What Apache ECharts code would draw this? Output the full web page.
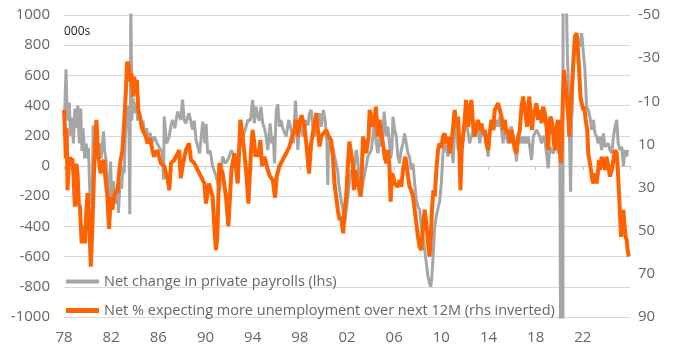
<!DOCTYPE html>
<html>
<head>
<meta charset="utf-8">
<script src="https://cdn.jsdelivr.net/npm/echarts@6/dist/echarts.min.js"></script>
<style>
html,body{margin:0;padding:0;background:#fff;}
#chart{width:678px;height:355px;}
</style>
</head>
<body>
<div id="chart"></div>
<script>
// Net change in private payrolls (000s, lhs) : [decimal year, value]
const payrolls = [
[1978.00,200],[1978.08,420],[1978.17,640],[1978.25,400],[1978.33,300],[1978.45,420],[1978.55,200],[1978.65,320],[1978.80,150],[1978.92,380],
[1979.05,250],[1979.17,400],[1979.30,150],[1979.42,380],[1979.52,100],[1979.62,250],[1979.75,50],[1979.88,150],[1980.00,50],[1980.08,120],
[1980.18,-160],[1980.30,-250],[1980.40,-180],[1980.48,270],[1980.58,100],[1980.70,200],[1980.85,50],[1981.00,150],[1981.15,50],[1981.35,230],
[1981.45,100],[1981.55,50],[1981.65,-50],[1981.75,-150],[1981.85,-310],[1981.95,30],[1982.05,-200],[1982.20,-100],[1982.35,-250],[1982.50,-150],
[1982.62,-310],[1982.75,-100],[1982.88,-150],[1983.00,0],[1983.10,-50],[1983.20,200],[1983.30,300],[1983.40,400],[1983.50,350],[1983.58,-320],
[1983.67,1100],[1983.75,300],[1983.85,450],[1984.00,350],[1984.12,420],[1984.25,300],[1984.40,350],[1984.55,250],[1984.70,300],[1984.85,200],
[1985.00,250],[1985.15,180],[1985.30,220],[1985.45,150],[1985.65,195],[1985.90,150],[1986.10,120],[1986.36,84],[1986.44,-90],[1986.50,327],
[1986.70,150],[1986.93,195],[1987.05,260],[1987.20,305],[1987.40,250],[1987.63,360],[1987.90,305],[1988.05,440],[1988.20,300],[1988.34,283],
[1988.60,350],[1988.75,300],[1988.90,240],[1989.05,300],[1989.20,172],[1989.50,84],[1989.65,200],[1989.76,294],[1989.95,150],[1990.05,280],
[1990.18,84],[1990.40,100],[1990.60,0],[1990.90,-70],[1991.20,-160],[1991.45,62],[1991.70,18],[1991.95,50],[1992.20,106],[1992.45,60],
[1992.70,-30],[1992.95,150],[1993.20,195],[1993.40,250],[1993.60,305],[1993.80,300],[1994.00,437],[1994.14,283],[1994.28,393],[1994.43,327],
[1994.58,300],[1994.70,393],[1994.85,283],[1995.00,250],[1995.14,195],[1995.28,106],[1995.48,283],[1995.62,150],[1995.75,200],[1995.85,18],
[1996.00,371],[1996.13,410],[1996.27,260],[1996.40,305],[1996.55,250],[1996.70,260],[1996.84,195],[1997.06,305],[1997.26,239],[1997.46,150],
[1997.63,433],[1997.75,250],[1997.83,106],[1997.97,260],[1998.10,300],[1998.25,195],[1998.40,250],[1998.54,305],[1998.70,270],[1998.82,350],
[1998.96,371],[1999.10,260],[1999.25,195],[1999.40,250],[1999.53,305],[1999.67,350],[1999.81,260],[2000.00,371],[2000.15,300],[2000.29,172],
[2000.37,-126],[2000.45,195],[2000.60,100],[2000.80,128],[2000.95,60],[2001.08,18],[2001.20,-30],[2001.30,-115],[2001.50,-225],[2001.65,-290],
[2001.80,-380],[2001.94,-290],[2002.08,-203],[2002.20,-115],[2002.36,-26],[2002.50,-70],[2002.64,0],[2002.78,106],[2002.92,40],[2003.06,-137],
[2003.20,-203],[2003.35,-115],[2003.50,-48],[2003.63,0],[2003.77,62],[2003.92,84],[2004.06,106],[2004.20,195],[2004.34,305],[2004.48,150],
[2004.62,84],[2004.76,195],[2004.90,128],[2005.05,216],[2005.15,360],[2005.33,195],[2005.47,260],[2005.60,150],[2005.70,50],[2005.80,106],
[2005.90,327],[2006.04,239],[2006.18,195],[2006.32,62],[2006.46,18],[2006.60,106],[2006.75,150],[2006.89,216],[2007.03,150],[2007.17,84],
[2007.30,62],[2007.45,-26],[2007.60,18],[2007.74,-115],[2007.88,-225],[2008.02,-270],[2008.16,-290],[2008.30,-400],[2008.45,-470],[2008.59,-557],
[2008.73,-645],[2008.87,-733],[2009.00,-778],[2009.10,-800],[2009.20,-733],[2009.33,-557],[2009.44,-400],[2009.58,-330],[2009.72,-280],[2009.86,-230],
[2010.00,-115],[2010.14,84],[2010.28,150],[2010.43,106],[2010.57,62],[2010.70,128],[2010.85,150],[2011.00,18],[2011.13,239],[2011.28,283],
[2011.42,106],[2011.56,150],[2011.70,195],[2011.84,172],[2011.98,283],[2012.10,305],[2012.27,216],[2012.40,150],[2012.55,195],[2012.70,239],
[2012.83,260],[2012.97,239],[2013.10,260],[2013.26,150],[2013.40,239],[2013.54,195],[2013.68,239],[2013.82,150],[2013.97,62],[2014.10,216],
[2014.25,283],[2014.40,239],[2014.53,260],[2014.68,305],[2014.82,260],[2014.96,327],[2015.10,239],[2015.24,150],[2015.38,239],[2015.52,195],
[2015.67,150],[2015.80,239],[2015.95,260],[2016.10,195],[2016.24,150],[2016.37,30],[2016.52,216],[2016.66,150],[2016.80,195],[2016.94,150],
[2017.08,195],[2017.22,150],[2017.37,195],[2017.50,128],[2017.65,40],[2017.80,195],[2017.93,216],[2018.08,239],[2018.20,239],[2018.35,195],
[2018.50,150],[2018.65,200],[2018.78,172],[2018.92,84],[2019.06,-15],[2019.20,128],[2019.35,100],[2019.50,84],[2019.63,128],[2019.78,150],
[2019.90,84],[2020.05,150],[2020.13,-1500],[2020.25,-19000],[2020.33,3000],[2020.42,4500],[2020.50,1500],[2020.60,1100],[2020.70,700],[2020.76,590],
[2020.85,260],[2020.96,-170],[2021.05,300],[2021.10,371],[2021.19,700],[2021.33,835],[2021.47,813],[2021.60,835],[2021.75,790],[2021.90,880],
[2022.04,880],[2022.18,636],[2022.32,393],[2022.46,371],[2022.60,327],[2022.75,239],[2022.90,305],[2023.03,216],[2023.17,195],[2023.30,150],
[2023.45,195],[2023.60,106],[2023.74,216],[2023.88,128],[2024.00,128],[2024.16,150],[2024.30,106],[2024.45,84],[2024.60,195],[2024.73,260],
[2024.87,305],[2025.00,150],[2025.15,106],[2025.30,128],[2025.44,0],[2025.58,106],[2025.72,62],[2025.80,106]
];

// Net % expecting more unemployment over next 12M (rhs, inverted) : [decimal year, value]
const expectations = [
[1978.00,-5.9],[1978.08,2.5],[1978.15,16.5],[1978.22,2.5],[1978.30,31.2],[1978.40,20],[1978.50,15.8],[1978.60,17.9],[1978.70,16.5],[1978.80,23.5],
[1978.92,38.9],[1979.05,19],[1979.15,23.5],[1979.25,37.5],[1979.35,38.9],[1979.50,55.9],[1979.60,52.9],[1979.70,48],[1979.78,55.9],[1979.90,40.3],
[1980.00,32.6],[1980.12,42],[1980.27,66.7],[1980.41,48],[1980.55,21.8],[1980.75,-1.4],[1980.86,11],[1980.97,17.2],[1981.10,23.4],[1981.25,18.7],
[1981.40,17.2],[1981.50,24.9],[1981.68,34.2],[1981.82,49.1],[1981.97,34.2],[1982.10,40.3],[1982.25,34.2],[1982.40,31.2],[1982.53,32.6],[1982.67,23.4],
[1982.80,17.2],[1982.96,12.6],[1983.10,0.2],[1983.24,-13.7],[1983.35,-28.3],[1983.50,-26.2],[1983.60,-19.2],[1983.72,-23],[1983.86,-12.2],[1983.95,-21.4],
[1984.09,-13.7],[1984.18,-19.9],[1984.30,-6],[1984.50,-1.4],[1984.66,3.2],[1984.80,4.9],[1984.94,6.4],[1985.08,9.5],[1985.28,7.2],[1985.50,12.6],
[1985.65,15.7],[1985.93,12.6],[1986.20,18.7],[1986.50,20],[1986.80,26.5],[1986.93,31.2],[1987.07,18.7],[1987.35,17.2],[1987.77,12.6],[1987.90,25.7],
[1988.06,20],[1988.34,12.6],[1988.60,9.5],[1988.77,17.2],[1989.05,18.7],[1989.33,21.8],[1989.62,24.9],[1989.90,28.1],[1990.04,37.4],[1990.30,28.1],
[1990.60,34.2],[1990.75,48],[1990.88,59],[1991.00,52.9],[1991.17,18.7],[1991.45,23.4],[1991.74,34.2],[1991.94,48],[1992.20,21.8],[1992.45,14.1],
[1992.73,28.1],[1992.96,-1.4],[1993.15,6.4],[1993.44,21.8],[1993.64,37.4],[1993.86,12.6],[1994.00,3.3],[1994.14,9.5],[1994.23,15.7],[1994.34,12.6],
[1994.50,15.7],[1994.65,8],[1994.80,20],[1995.00,15.7],[1995.14,18.7],[1995.28,21.8],[1995.48,24.9],[1995.70,26.5],[1995.90,34.7],[1996.04,24.9],
[1996.27,20],[1996.55,17.2],[1996.84,14.1],[1997.12,11],[1997.35,6.4],[1997.55,3.3],[1997.70,-1.4],[1997.83,6.4],[1997.97,0.2],[1998.15,-3.5],
[1998.40,1.8],[1998.60,12.6],[1998.78,23.5],[1998.96,9.5],[1999.25,0.2],[1999.39,-4.5],[1999.53,3.3],[1999.67,11],[1999.81,6.4],[2000.00,4.9],
[2000.24,3.3],[2000.46,6.4],[2000.66,8],[2000.80,15.7],[2000.94,28.1],[2001.08,34.2],[2001.22,40.3],[2001.37,45.1],[2001.50,43.5],[2001.68,51.2],
[2001.80,40.3],[2001.93,34.2],[2002.07,20],[2002.20,8.7],[2002.36,14.1],[2002.50,20],[2002.58,31.2],[2002.72,21.8],[2002.87,28.1],[2003.06,31.2],
[2003.15,34.2],[2003.26,21.8],[2003.35,6.4],[2003.50,9.5],[2003.63,14.1],[2003.83,6.4],[2003.92,-6],[2004.06,-2.9],[2004.20,1.8],[2004.34,-1],
[2004.45,-7.5],[2004.62,6.4],[2004.76,-1.4],[2004.90,4.9],[2005.05,9.5],[2005.19,15.7],[2005.33,18.7],[2005.47,12.6],[2005.60,20],[2005.70,36.5],
[2005.81,23.4],[2005.93,24.9],[2006.04,28.1],[2006.18,28.1],[2006.32,29.6],[2006.46,26.5],[2006.60,29.6],[2006.75,21.8],[2006.95,15.7],[2007.03,18.7],
[2007.17,24.9],[2007.30,29.6],[2007.45,31.2],[2007.60,34.2],[2007.74,40.3],[2007.88,46.6],[2008.02,52.9],[2008.16,57.5],[2008.30,59],[2008.45,48],
[2008.59,40.3],[2008.73,46.6],[2008.87,55.9],[2009.00,62],[2009.10,54.3],[2009.20,40.3],[2009.33,31.2],[2009.44,34.2],[2009.58,21.8],[2009.72,12.6],
[2009.86,9.5],[2010.00,11.6],[2010.14,6.4],[2010.28,4.9],[2010.43,9.5],[2010.57,6.4],[2010.70,14.1],[2010.85,9.5],[2011.00,1.8],[2011.13,-6],
[2011.28,1.8],[2011.42,-2.9],[2011.50,6.4],[2011.62,31.2],[2011.73,12.6],[2011.84,6.4],[2011.98,-1.4],[2012.10,-10.6],[2012.27,1.8],[2012.40,-6],
[2012.55,-10.6],[2012.70,1.8],[2012.83,6.4],[2012.97,1.8],[2013.10,-1.4],[2013.26,3.3],[2013.40,0.2],[2013.54,4.9],[2013.68,3.3],[2013.82,9.5],
[2013.97,12.6],[2014.10,4.9],[2014.25,-1.4],[2014.40,3.3],[2014.53,-6],[2014.68,-7.5],[2014.82,-9.1],[2014.96,-6],[2015.10,-2.9],[2015.24,3.3],
[2015.38,-1.4],[2015.52,4.9],[2015.67,3.3],[2015.80,9.5],[2015.95,3.3],[2016.10,8],[2016.24,12.6],[2016.37,14.1],[2016.52,6.4],[2016.66,3.3],
[2016.80,-7.5],[2016.94,-12.2],[2017.08,-12.2],[2017.16,-2.9],[2017.28,1.8],[2017.37,-6],[2017.45,-12.2],[2017.56,-6],[2017.68,3.3],[2017.80,-2.9],
[2017.93,-6],[2018.07,-9.1],[2018.20,-1.4],[2018.36,-6],[2018.50,0.2],[2018.64,-7.5],[2018.78,-4.5],[2018.92,1.8],[2019.06,12.6],[2019.15,0.2],
[2019.26,-2.9],[2019.40,0.2],[2019.55,9.5],[2019.63,12.6],[2019.77,1.8],[2019.90,-1.4],[2020.05,12.6],[2020.14,18.7],[2020.25,-1.4],[2020.40,-24.5],
[2020.48,-19.9],[2020.62,-13.7],[2020.76,-2.9],[2020.85,6.4],[2020.96,-6],[2021.05,-13.7],[2021.13,-21.4],[2021.24,-32.3],[2021.33,-40],[2021.47,-41.6],
[2021.55,-36.9],[2021.67,-26.1],[2021.80,-12.2],[2021.90,-9.1],[2022.04,-6],[2022.12,-7.5],[2022.24,-1.4],[2022.38,3.3],[2022.46,14.1],[2022.60,18.7],
[2022.69,21.8],[2022.80,26.5],[2022.90,28.1],[2023.03,23.4],[2023.17,28.1],[2023.25,24.9],[2023.37,17.2],[2023.45,21.8],[2023.60,15.7],[2023.74,18.7],
[2023.88,21.8],[2024.00,15.7],[2024.16,20],[2024.30,24.9],[2024.45,21.8],[2024.60,17.2],[2024.73,12.6],[2024.87,14.1],[2024.95,20],[2025.07,32.6],
[2025.15,42],[2025.24,52.9],[2025.32,46.6],[2025.44,40.3],[2025.52,46.6],[2025.63,52.9],[2025.72,54.3],[2025.80,59],[2025.89,62]
];

const seriesNames = [
  'Net change in private payrolls (lhs)',
  'Net % expecting more unemployment over next 12M (rhs inverted)'
];
const unitNote = '000s';
const firstYear = 1978;
const lastYear = 2026;
const yearStep = 4;
const lhsRange = [-1000, 1000, 200];
const rhsRange = [-50, 90, 20];

const FONT = 'Open Sans';
const toX = d => [Math.round((d[0] - firstYear) * 1000) / 1000, d[1]];

const chart = echarts.init(document.getElementById('chart'), null, {renderer: 'canvas'});
chart.setOption({
  animation: false,
  backgroundColor: '#ffffff',
  textStyle: {fontFamily: FONT},
  grid: {left: 64, right: 48, top: 15, bottom: 38, containLabel: false},
  graphic: [{
    type: 'text', left: 64, top: 26,
    style: {text: unitNote, fontSize: 12, fill: '#222', fontFamily: FONT}
  }],
  legend: [
    {data: [seriesNames[0]], left: 66, top: 274, padding: 0, icon: 'rect', itemWidth: 33, itemHeight: 4,
     textStyle: {fontSize: 14.5, color: '#666', fontFamily: FONT}},
    {data: [seriesNames[1]], left: 66, top: 303, padding: 0, icon: 'rect', itemWidth: 33, itemHeight: 5,
     textStyle: {fontSize: 14.5, color: '#666', fontFamily: FONT}}
  ],
  xAxis: [
    {
      type: 'value', min: 0, max: lastYear - firstYear, interval: yearStep,
      axisLine: {show: true, onZero: true, onZeroAxisIndex: 0, lineStyle: {color: '#c8c8c8', width: 1}},
      axisTick: {show: true, inside: false, length: 4, lineStyle: {color: '#c8c8c8'}},
      axisLabel: {show: false},
      splitLine: {show: false}
    },
    {
      type: 'value', min: 0, max: lastYear - firstYear, interval: yearStep, position: 'bottom',
      axisLine: {show: false, onZero: false},
      axisTick: {show: false},
      splitLine: {show: false},
      axisLabel: {
        show: true, margin: 13, fontSize: 15, color: '#666', fontFamily: FONT,
        formatter: v => (v >= lastYear - firstYear) ? '' : String((firstYear + v) % 100).padStart(2, '0')
      }
    }
  ],
  yAxis: [
    {
      type: 'value', min: lhsRange[0], max: lhsRange[1], interval: lhsRange[2],
      axisLine: {show: false}, axisTick: {show: false},
      axisLabel: {margin: 14, fontSize: 15, color: '#666', fontFamily: FONT, formatter: v => String(v)},
      splitLine: {show: true, lineStyle: {color: '#d9d9d9', width: 1}}
    },
    {
      type: 'value', inverse: true, min: rhsRange[0], max: rhsRange[1], interval: 10,
      position: 'right',
      axisLine: {show: false}, axisTick: {show: false},
      axisLabel: {margin: 8, fontSize: 15, color: '#666', fontFamily: FONT,
        formatter: v => ((v - rhsRange[0]) % rhsRange[2] === 0) ? String(v) : ''},
      splitLine: {show: false}
    }
  ],
  series: [
    {
      name: seriesNames[0], type: 'line', xAxisIndex: 0, yAxisIndex: 0,
      data: payrolls.map(toX), showSymbol: false, symbol: 'none', clip: true,
      lineStyle: {color: '#a6a6a6', width: 3}, itemStyle: {color: '#a6a6a6'}, z: 2
    },
    {
      name: seriesNames[1], type: 'line', xAxisIndex: 0, yAxisIndex: 1,
      data: expectations.map(toX), showSymbol: false, symbol: 'none', clip: true,
      lineStyle: {color: '#ff6200', width: 4}, itemStyle: {color: '#ff6200'}, z: 3
    }
  ]
});
</script>
</body>
</html>
